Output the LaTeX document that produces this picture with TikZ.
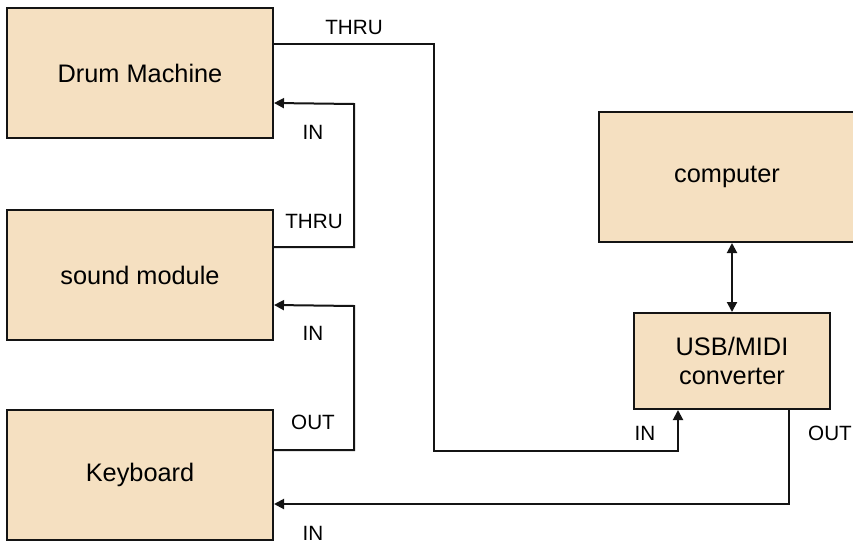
\documentclass[tikz,border=0pt]{standalone}
\usepackage{fontspec}
\setmainfont{Liberation Sans}
\usetikzlibrary{arrows.meta,calc}
\definecolor{boxfill}{RGB}{245,224,193}
\definecolor{edge}{RGB}{20,20,20}
\tikzset{
  blk/.style={draw=edge,line width=1.5pt,fill=boxfill,inner sep=0pt,align=center,
    font=\fontsize{19}{22}\selectfont},
  lbl/.style={font=\fontsize{15.5}{18}\selectfont,inner sep=0pt},
  wire/.style={draw=edge,line width=1.5pt},
  arr/.style={wire,-{Triangle[length=7.5pt,width=7.5pt]}},
  dbl/.style={wire,{Triangle[length=7.5pt,width=7.5pt]}-{Triangle[length=7.5pt,width=7.5pt]}}
}
\begin{document}
\begin{tikzpicture}[x=0.75pt,y=-0.75pt]
\path[use as bounding box] (0,0) rectangle (853,543);
\node[blk,minimum width=266*0.75pt,minimum height=130*0.75pt] (dm) at (140,73) {Drum Machine};
\node[blk,minimum width=266*0.75pt,minimum height=130*0.75pt] (sm) at (140,275) {sound module};
\node[blk,minimum width=266*0.75pt,minimum height=130*0.75pt] (kb) at (140,475) {Keyboard};
\node[blk,minimum width=256*0.75pt,minimum height=130*0.75pt] (comp) at (727,177) {computer};
\node[blk,minimum width=196*0.75pt,minimum height=96*0.75pt] (conv) at (732,361) {USB/MIDI\\converter};

\draw[arr] ($(dm.north east)+(0,37)$) -| (434,451) -| ($(conv.south west)+(45,0)$);
\draw[arr] ($(sm.north east)+(0,38)$) -| (354,104) -- ($(dm.north east)+(0,96)$);
\draw[arr] ($(kb.north east)+(0,41)$) -| (354,306) -- ($(sm.north east)+(0,96)$);
\draw[arr] ($(conv.south west)+(156,0)$) |- ($(kb.north east)+(0,95)$);
\draw[dbl] (conv.north |- comp.south) -- (conv.north);

\node[lbl] (l1) at (354,27) {THRU};
\node[lbl] (l2) at (313,132) {IN};
\node[lbl] (l3) at (314,221) {THRU};
\node[lbl] (l4) at (313,333) {IN};
\node[lbl] (l5) at (313,422) {OUT};
\node[lbl] (l6) at (645,433) {IN};
\node[lbl] (l7) at (830,433) {OUT};
\node[lbl] (l8) at (313,533) {IN};
\end{tikzpicture}
\end{document}
